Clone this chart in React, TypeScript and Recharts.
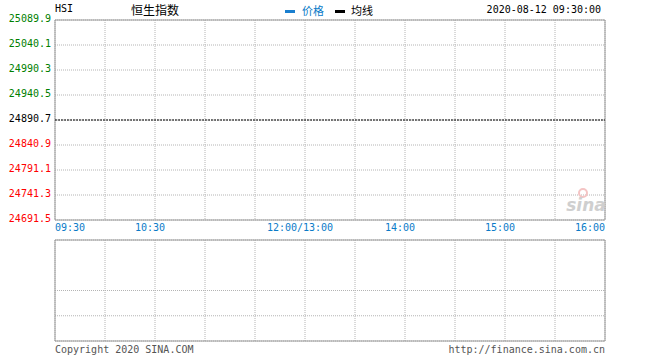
import {
  LineChart,
  Line,
  XAxis,
  YAxis,
  CartesianGrid,
  ReferenceLine,
  ReferenceArea,
  BarChart,
  Bar,
} from 'recharts';

const prevClose = 24890.7;
const priceTicks = [25089.9, 25040.1, 24990.3, 24940.5, 24890.7, 24840.9, 24791.1, 24741.3, 24691.5];
const pctTicks = [0.8, 0.6, 0.4, 0.2, 0, -0.2, -0.4, -0.6, -0.8];
const minuteTicks = [0, 30, 60, 90, 120, 150, 180, 210, 240, 270, 300, 330];
const timeLabels: { [k: number]: string } = {
  0: '09:30',
  60: '10:30',
  150: '12:00/13:00',
  210: '14:00',
  270: '15:00',
  330: '16:00',
};
const volumeTicks = [0, 1, 2, 3, 4];

// 09:30:00 snapshot: only the opening tick
const minutes = [0];
const prices = [24890.7];
const avgPrices = [24890.7];
const volumes = [0];

const data = minutes.map((m, i) => ({ m, price: prices[i], avg: avgPrices[i], vol: volumes[i] }));

const MONO = '"DejaVu Sans Mono", "Liberation Mono", monospace';
const CJK = '"Noto Sans CJK SC", sans-serif';
const GREEN = '#008000';
const RED = '#ff0000';
const BLUE = '#0a7bc8';
const GRID = '#b4b4b4';
const BORDER = '#9a9a9a';

const colorFor = (v: number) => (v > 0 ? GREEN : v < 0 ? RED : '#000');

const PriceTick = ({ y, payload }: any) => (
  <text x={51} y={y + 1.5} textAnchor="end" fontFamily={MONO} fontSize={10} fill={colorFor(payload.value - prevClose)}>
    {payload.value.toFixed(1)}
  </text>
);

const PctTick = ({ y, payload }: any) => {
  const v = payload.value;
  const s = (v > 0 ? '+' : '') + v.toFixed(2) + '%';
  return (
    <text x={642} y={y + 1.5} textAnchor="end" fontFamily={MONO} fontSize={10} fill={colorFor(v)}>
      {s}
    </text>
  );
};

const TimeTick = ({ x, payload }: any) => {
  const label = timeLabels[payload.value];
  if (!label) return null;
  const anchor = payload.value === 0 ? 'start' : payload.value === 330 ? 'end' : 'middle';
  const dx = payload.value === 0 || payload.value === 330 ? 0 : -5;
  return (
    <text x={x + dx} y={231} textAnchor={anchor} fontFamily={MONO} fontSize={10} fill={BLUE}>
      {label}
    </text>
  );
};

export default function App() {
  return (
    <div style={{ position: 'absolute', left: 0, top: 0, width: 660, height: 360, background: '#fff' }}>
      <div style={{ position: 'absolute', left: 0, top: 0 }}>
        <LineChart width={660} height={232} data={data} margin={{ top: 20, right: 0, bottom: 0, left: 0 }}>
          <CartesianGrid yAxisId="price" stroke={GRID} strokeDasharray="1 1" />
          <XAxis
            dataKey="m"
            type="number"
            domain={[0, 330]}
            ticks={minuteTicks}
            height={12}
            axisLine={false}
            tickLine={false}
            tick={<TimeTick />}
            interval={0}
          />
          <YAxis
            yAxisId="price"
            type="number"
            domain={[24691.5, 25089.9]}
            ticks={priceTicks}
            width={55}
            axisLine={false}
            tickLine={false}
            tick={<PriceTick />}
            interval={0}
          />
          <YAxis
            yAxisId="pct"
            orientation="right"
            type="number"
            domain={[-0.8, 0.8]}
            ticks={pctTicks}
            width={55}
            axisLine={false}
            tickLine={false}
            tick={<PctTick />}
            interval={0}
          />
          <ReferenceArea yAxisId="price" x1={0} x2={330} y1={24691.5} y2={25089.9} fill="none" stroke={BORDER} strokeWidth={1} />
          <ReferenceLine yAxisId="price" y={prevClose} stroke="#000" strokeDasharray="2 1" />
          <Line yAxisId="price" dataKey="price" stroke="#1a7fcf" dot={{ r: 0 }} activeDot={false} isAnimationActive={false} />
          <Line yAxisId="price" dataKey="avg" stroke="#000" dot={{ r: 0 }} activeDot={false} isAnimationActive={false} />
        </LineChart>
      </div>
      <div style={{ position: 'absolute', left: 0, top: 239 }}>
        <BarChart width={660} height={103} data={data} margin={{ top: 1, right: 55, bottom: 1, left: 55 }}>
          <CartesianGrid stroke={GRID} strokeDasharray="1 1" />
          <XAxis dataKey="m" type="number" domain={[0, 330]} ticks={minuteTicks} hide />
          <YAxis type="number" domain={[0, 4]} ticks={volumeTicks} hide />
          <ReferenceArea x1={0} x2={330} y1={0} y2={4} fill="none" stroke={BORDER} strokeWidth={1} />
          <Bar dataKey="vol" fill="#1a7fcf" isAnimationActive={false} />
        </BarChart>
      </div>
      <svg width={660} height={360} style={{ position: 'absolute', left: 0, top: 0, pointerEvents: 'none' }}>
        <text x={55} y={12} fontFamily={MONO} fontSize={10} fill="#000">HSI</text>
        <text x={131} y={15} fontFamily={CJK} fontSize={12} fill="#000">恒生指数</text>
        <rect x={285} y={10} width={10} height={3} fill="#1a7fcf" />
        <text x={302} y={15} fontFamily={CJK} fontSize={11} fill={BLUE}>价格</text>
        <rect x={335} y={10} width={10} height={3} fill="#000" />
        <text x={351} y={15} fontFamily={CJK} fontSize={11} fill="#000">均线</text>
        <text x={601} y={13} textAnchor="end" fontFamily={MONO} fontSize={10} fill="#000">2020-08-12 09:30:00</text>
        <circle cx={583} cy={193} r={4} fill="none" stroke="#f4c4c4" strokeWidth={2} />
        <text x={586} y={211} textAnchor="middle" fontFamily="DejaVu Sans, sans-serif" fontSize={17} fontStyle="italic" fontWeight="bold" fill="#cfcfcf">sina</text>
        <text x={55} y={353} fontFamily={MONO} fontSize={10} fill="#555">Copyright 2020 SINA.COM</text>
        <text x={605} y={353} textAnchor="end" fontFamily={MONO} fontSize={10} fill="#555">http://finance.sina.com.cn</text>
      </svg>
    </div>
  );
}
